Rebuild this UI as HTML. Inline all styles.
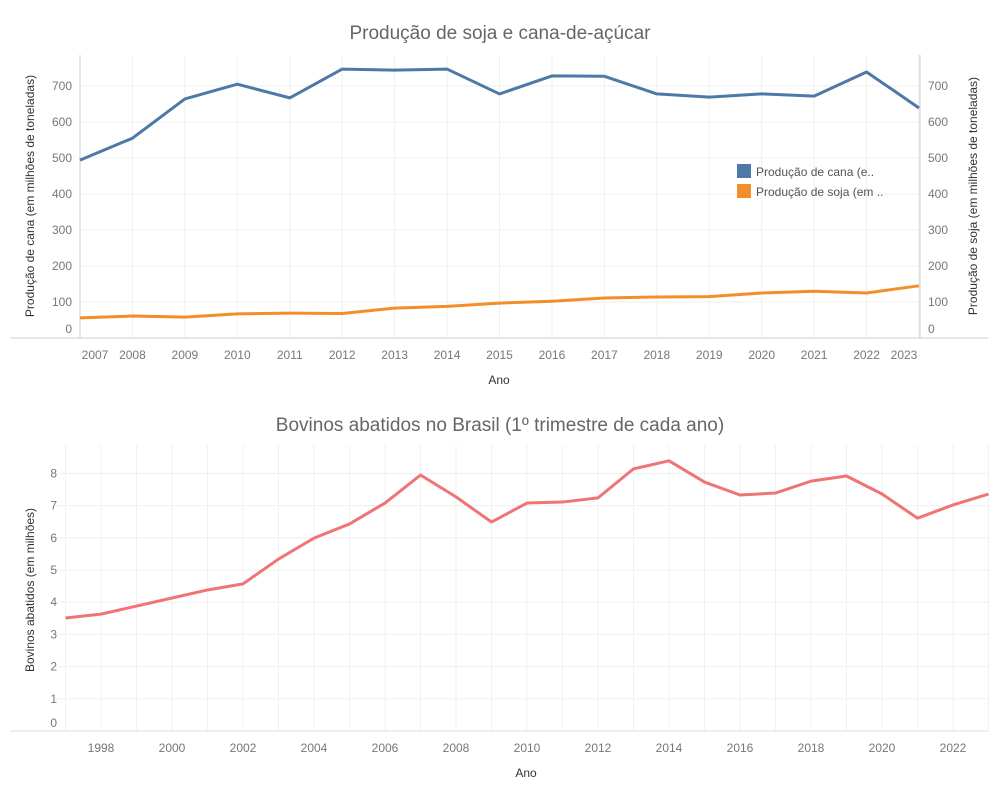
<!DOCTYPE html>
<html><head><meta charset="utf-8"><style>
body{margin:0;background:#fff;width:999px;height:799px;overflow:hidden;font-family:"Liberation Sans",sans-serif}
svg text{font-family:"Liberation Sans",sans-serif}
</style></head><body>
<svg id="c" width="999" height="799">
<text x="500" y="39" text-anchor="middle" font-size="19" fill="#666">Produção de soja e cana-de-açúcar</text>
<text x="500" y="431" text-anchor="middle" font-size="19" fill="#666">Bovinos abatidos no Brasil (1º trimestre de cada ano)</text>
<g id="top"></g>
<g id="bot"></g>
</svg>
<script>
const years1=[2007,2008,2009,2010,2011,2012,2013,2014,2015,2016,2017,2018,2019,2020,2021,2022,2023];
const cana=[494,555,664,705,667,747,744,747,678,728,727,678,669,678,672,739,639];
const soja=[56,61,58,67,69,68,83,88,97,102,111,114,115,125,130,125,145];
const ticks1=[0,100,200,300,400,500,600,700];
const years2=[1997,1998,1999,2000,2001,2002,2003,2004,2005,2006,2007,2008,2009,2010,2011,2012,2013,2014,2015,2016,2017,2018,2019,2020,2021,2022,2023];
const bovinos=[3.51,3.63,3.88,4.13,4.38,4.57,5.34,5.99,6.43,7.08,7.95,7.27,6.49,7.08,7.11,7.24,8.14,8.39,7.73,7.33,7.39,7.76,7.92,7.36,6.61,7.02,7.36];
const ticks2=[0,1,2,3,4,5,6,7,8];
const labels2=[1998,2000,2002,2004,2006,2008,2010,2012,2014,2016,2018,2020,2022];
const NS='http://www.w3.org/2000/svg';
function mk(p,t,a,txt){const e=document.createElementNS(NS,t);for(const k in a)e.setAttribute(k,a[k]);if(txt!==undefined)e.textContent=txt;p.appendChild(e);return e;}
// top
const T=document.getElementById('top');
const x1=y=>80+(y-2007)*(839/16), y1=v=>338-v*0.36;
years1.forEach(y=>{const l=mk(T,'line',{x1:x1(y),x2:x1(y),y1:55,y2:338,stroke:'#efefef'});


let tx=x1(y); if(y===2007)tx=95; if(y===2023)tx=904;
const t=mk(T,'text',{x:tx,y:359,'text-anchor':'middle','font-size':12,fill:'#777'},y);

});
ticks1.forEach(v=>{const l=mk(T,'line',{x1:80,x2:919,y1:y1(v),y2:y1(v),stroke:'#efefef'});


const ty=v===0?333:y1(v)+4;
const a=mk(T,'text',{x:72,y:ty,'text-anchor':'end','font-size':12,fill:'#777'},v);


const b=mk(T,'text',{x:928,y:ty,'font-size':12,fill:'#777'},v);

});
mk(T,'line',{x1:80,x2:80,y1:55,y2:338,stroke:'#ccc'});
mk(T,'line',{x1:920,x2:920,y1:55,y2:338,stroke:'#ccc'});
mk(T,'line',{x1:10,x2:988,y1:338,y2:338,stroke:'#ccc'});
const pc=mk(T,'polyline',{points:years1.map((y,i)=>x1(y)+','+y1(cana[i])).join(' '),fill:'none',stroke:'#4e79a7','stroke-width':3,'stroke-linejoin':'round'});


const ps=mk(T,'polyline',{points:years1.map((y,i)=>x1(y)+','+y1(soja[i])).join(' '),fill:'none',stroke:'#f28e2b','stroke-width':3,'stroke-linejoin':'round'});


mk(T,'text',{x:34,y:196,'text-anchor':'middle','font-size':12,fill:'#333',transform:'rotate(-90 34 196)'},'Produção de cana (em milhões de toneladas)');
mk(T,'text',{x:977,y:196,'text-anchor':'middle','font-size':12,fill:'#333',transform:'rotate(-90 977 196)'},'Produção de soja (em milhões de toneladas)');
mk(T,'text',{x:499,y:384,'text-anchor':'middle','font-size':12,fill:'#333'},'Ano');
const lg=mk(T,'g',{});


mk(lg,'rect',{x:737,y:164,width:14,height:14,fill:'#4e79a7'});
mk(lg,'text',{x:756,y:176,'font-size':12,fill:'#555'},'Produção de cana (e..');
mk(lg,'rect',{x:737,y:184,width:14,height:14,fill:'#f28e2b'});
mk(lg,'text',{x:756,y:196,'font-size':12,fill:'#555'},'Produção de soja (em ..');
// bottom
const B=document.getElementById('bot');
const x2=y=>65.5+(y-1997)*35.5, y2=v=>731-v*32.2;
years2.forEach(y=>{const l=mk(B,'line',{x1:x2(y),x2:x2(y),y1:445,y2:731,stroke:'#f2f2f2'});

});
labels2.forEach(y=>{const t=mk(B,'text',{x:x2(y),y:752,'text-anchor':'middle','font-size':12,fill:'#777'},y);

});
ticks2.forEach(v=>{const l=mk(B,'line',{x1:55,x2:988,y1:y2(v),y2:y2(v),stroke:'#efefef'});


const t=mk(B,'text',{x:57,y:v===0?727:y2(v)+4,'text-anchor':'end','font-size':12,fill:'#777'},v);

});
mk(B,'line',{x1:10,x2:988,y1:731,y2:731,stroke:'#ddd'});
const pb=mk(B,'polyline',{points:years2.map((y,i)=>x2(y)+','+y2(bovinos[i])).join(' '),fill:'none',stroke:'#f07474','stroke-width':3,'stroke-linejoin':'round'});


mk(B,'text',{x:34,y:590,'text-anchor':'middle','font-size':12,fill:'#333',transform:'rotate(-90 34 590)'},'Bovinos abatidos (em milhões)');
mk(B,'text',{x:526,y:777,'text-anchor':'middle','font-size':12,fill:'#333'},'Ano');
</script>
</body></html>
